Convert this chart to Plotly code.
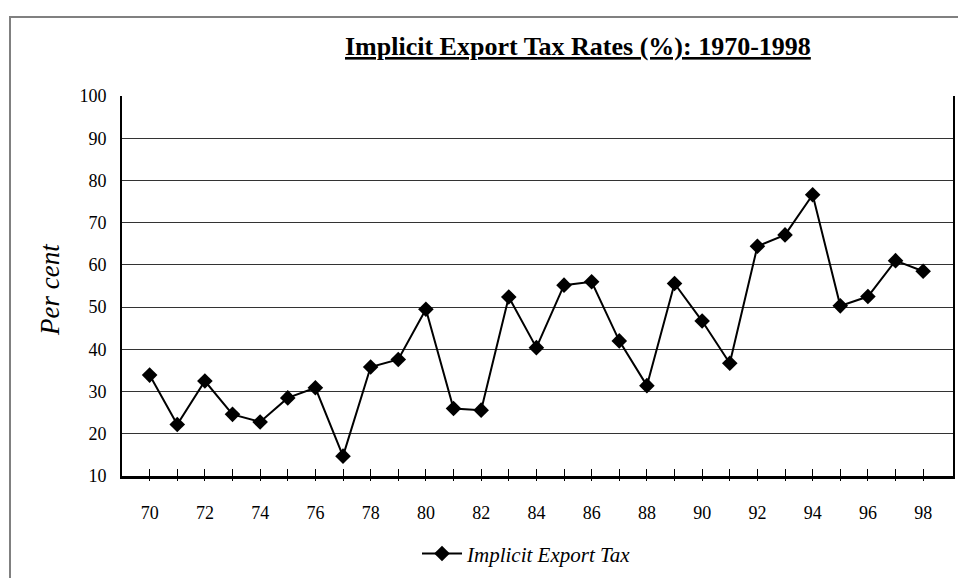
import plotly.graph_objects as go

# Implicit export tax rates, 1970-1998 (two-digit years)
years = list(range(70, 99))
tax_rates = [
    33.9, 22.2, 32.5, 24.6, 22.8, 28.5, 30.9, 14.7, 35.8, 37.6,
    49.5, 26.0, 25.6, 52.4, 40.4, 55.2, 56.0, 42.0, 31.4, 55.6,
    46.7, 36.7, 64.4, 67.1, 76.6, 50.3, 52.5, 61.0, 58.5,
]
tick_labels = [str(y) if y % 2 == 0 else "" for y in years]

FONT = "Liberation Serif, Times New Roman, serif"


def main():
    fig = go.Figure()
    fig.add_trace(
        go.Scatter(
            x=years,
            y=tax_rates,
            mode="lines+markers",
            name="Implicit Export Tax",
            line=dict(color="black", width=2),
            marker=dict(symbol="diamond", size=12, color="black"),
        )
    )
    # invisible trace on second x axis so the crossing ticks render
    fig.add_trace(
        go.Scatter(x=years, y=tax_rates, xaxis="x2", mode="none",
                   showlegend=False, hoverinfo="skip")
    )

    x_range = [69.0, 99.08]
    # page body has an 8px margin, so the figure is 8px smaller than the window
    fig.update_layout(
        width=958,
        height=570,
        margin=dict(l=114, r=13, t=88, b=102, autoexpand=False),
        paper_bgcolor="white",
        plot_bgcolor="white",
        font=dict(family=FONT, color="black", size=18),
        showlegend=True,
        legend=dict(
            orientation="h",
            x=0.355,
            y=-0.205,
            xanchor="left",
            yanchor="middle",
            font=dict(size=21, style="italic"),
            itemwidth=40,
        ),
        xaxis=dict(
            range=x_range,
            tickvals=years,
            ticktext=tick_labels,
            ticks="inside",
            ticklen=7,
            tickwidth=1,
            tickcolor="black",
            showgrid=False,
            showline=True,
            linecolor="black",
            linewidth=3,
            mirror=False,
            zeroline=False,
            tickfont=dict(size=18),
            ticklabelstandoff=18,
        ),
        xaxis2=dict(
            range=x_range,
            overlaying="x",
            anchor="y",
            side="bottom",
            tickvals=years,
            ticktext=["" for _ in years],
            ticks="outside",
            ticklen=4,
            tickwidth=1,
            tickcolor="black",
            showgrid=False,
            showline=False,
            zeroline=False,
        ),
        yaxis=dict(
            range=[10, 100],
            dtick=10,
            tick0=10,
            showgrid=True,
            gridcolor="#333333",
            gridwidth=1,
            showline=True,
            linecolor="black",
            linewidth=2,
            mirror=True,
            zeroline=False,
            ticks="",
            tickfont=dict(size=18),
            ticklabelstandoff=10,
        ),
    )

    fig.add_annotation(
        text="<b><u>Implicit Export Tax Rates (%): 1970-1998</u></b>",
        xref="paper", yref="paper",
        x=(578 - 122) / 831, y=1 + (96 - 47) / 380,
        xanchor="center", yanchor="middle",
        showarrow=False,
        font=dict(size=26, family=FONT),
    )
    fig.add_annotation(
        text="<i>Per cent</i>",
        xref="paper", yref="paper",
        x=(50 - 122) / 831, y=(476 - 290) / 380,
        xanchor="center", yanchor="middle",
        textangle=-90,
        showarrow=False,
        font=dict(size=27, family=FONT),
    )
    # outer chart frame
    fig.add_shape(
        type="rect", xref="paper", yref="paper",
        x0=(10 - 122) / 831, x1=(1000 - 122) / 831,
        y0=(476 - 620) / 380, y1=(476 - 17) / 380,
        line=dict(color="#808080", width=2),
        layer="below",
    )

    fig.write_html("out.html")


if __name__ == "__main__":
    main()
